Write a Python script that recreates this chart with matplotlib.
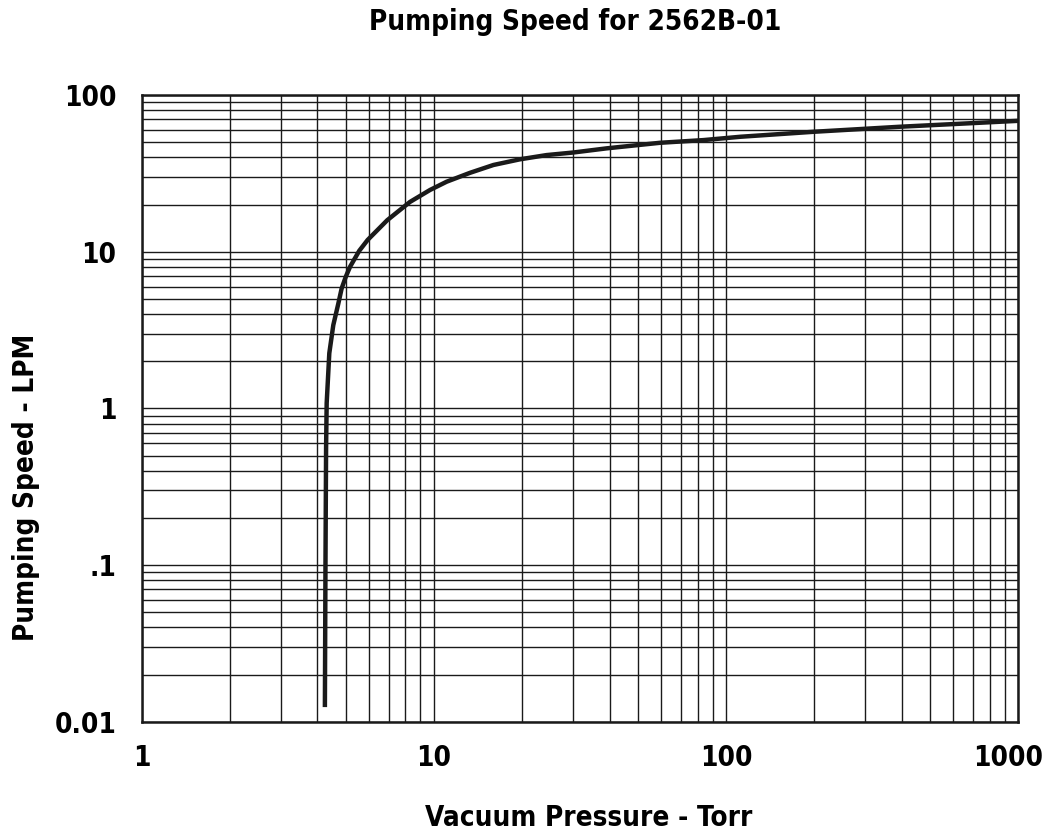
import matplotlib
matplotlib.use("Agg")
import matplotlib.pyplot as plt
from matplotlib.transforms import ScaledTranslation
from matplotlib.ticker import LogLocator, FixedLocator, FixedFormatter, NullFormatter

# curve (pressure in Torr, speed in LPM)
pressure = [4.24, 4.26, 4.28, 4.30, 4.39, 4.53, 4.71, 4.84, 5.0, 5.17, 5.56, 5.94,
            6.93, 8.29, 9.71, 11.07, 13.3, 16.0, 19.7, 24.3, 30.0, 39.0, 59.4,
            83.6, 112, 199, 394, 1000]
speed = [0.0124, 0.103, 0.556, 1.08, 2.25, 3.4, 4.64, 5.84, 6.93, 8.02, 10.15, 11.9,
         15.9, 20.8, 24.8, 28.0, 31.9, 35.8, 38.9, 41.4, 43.0, 45.7, 49.6,
         51.6, 54.2, 58.3, 62.8, 68.5]

x_ticks = [1, 10, 100, 1000]
x_labels = ["1", "10", "100", "1000"]
y_ticks = [0.01, 0.1, 1, 10, 100]
y_labels = ["0.01", ".1", "1", "10", "100"]

plt.rcParams["font.family"] = ["DejaVu Sans"]
plt.rcParams["font.stretch"] = "condensed"
plt.rcParams["font.weight"] = "bold"

fig = plt.figure(figsize=(10.5, 8.4), dpi=100)
ax = fig.add_axes([0.1348, 0.1408, 0.835, 0.746])

ax.plot(pressure, speed, color="#1a1a1a", lw=3.2, solid_capstyle="butt")

ax.set_xscale("log")
ax.set_yscale("log")
ax.set_xlim(1, 1000)
ax.set_ylim(0.01, 100)

ax.xaxis.set_major_locator(FixedLocator(x_ticks))
ax.xaxis.set_major_formatter(FixedFormatter(x_labels))
ax.yaxis.set_major_locator(FixedLocator(y_ticks))
ax.yaxis.set_major_formatter(FixedFormatter(y_labels))
ax.xaxis.set_minor_locator(LogLocator(base=10, subs=range(2, 10), numticks=20))
ax.yaxis.set_minor_locator(LogLocator(base=10, subs=range(2, 10), numticks=20))
ax.xaxis.set_minor_formatter(NullFormatter())
ax.yaxis.set_minor_formatter(NullFormatter())

ax.grid(which="both", color="#1a1a1a", lw=1.0)
ax.tick_params(which="both", length=0)
ax.tick_params(axis="x", pad=16, labelsize=20)
ax.tick_params(axis="y", pad=18, labelsize=20)
for s in ax.spines.values():
    s.set_linewidth(1.8)
    s.set_color("#1a1a1a")

# last x label sits a little inside the right edge, as in the original
last = ax.get_xticklabels()[-1]
last.set_transform(last.get_transform() + ScaledTranslation(-0.1, 0, fig.dpi_scale_trans))

fig.text(0.548, 0.974, "Pumping Speed for 2562B-01", ha="center", va="center",
         fontsize=20, fontweight="bold")
fig.text(0.561, 0.026, "Vacuum Pressure - Torr", ha="center", va="center",
         fontsize=20, fontweight="bold")
fig.text(0.025, 0.42, "Pumping Speed - LPM", ha="center", va="center",
         rotation=90, fontsize=20, fontweight="bold")

fig.savefig("out.png", dpi=100)
